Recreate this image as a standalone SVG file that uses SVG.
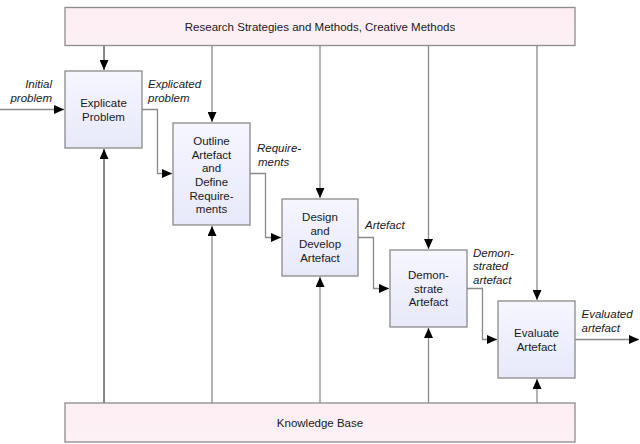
<svg xmlns="http://www.w3.org/2000/svg" width="640" height="444" viewBox="0 0 640 444">
<style>
.bar{fill:url(#pink);stroke:#8c8c8c;stroke-width:1.3}
.box{fill:url(#lav);stroke:#8a8a8a;stroke-width:1.3}
.t{font-family:"Liberation Sans",Arial,sans-serif;font-size:11.5px;fill:#1a1a1a;text-anchor:middle}
.lbl{font-family:"Liberation Sans",Arial,sans-serif;font-size:11.5px;font-style:italic;fill:#1a1a1a}
.c{fill:none;stroke:#8a8a8a;stroke-width:1.3}
.k{fill:none;stroke:#111;stroke-width:1}
</style>
<defs>
<linearGradient id="lav" x1="0" y1="0" x2="0" y2="1"><stop offset="0" stop-color="#f6f6fe"/><stop offset="1" stop-color="#e7e9fa"/></linearGradient>
<linearGradient id="pink" x1="0" y1="0" x2="0" y2="1"><stop offset="0" stop-color="#fdeef3"/><stop offset="1" stop-color="#fdf1f5"/></linearGradient>
<marker id="a" markerUnits="userSpaceOnUse" markerWidth="11" markerHeight="9" refX="10" refY="4.5" orient="auto"><path d="M0,0L10,4.5L0,9z" fill="#000"/></marker>
</defs>
<g id="connectors">
<path class="k" d="M104,46V70" marker-end="url(#a)"/>
<path class="c" d="M212,46V122" marker-end="url(#a)"/>
<path class="c" d="M320,46V198" marker-end="url(#a)"/>
<path class="c" d="M428.5,46V249" marker-end="url(#a)"/>
<path class="c" d="M537,46V300" marker-end="url(#a)"/>
<path class="k" d="M104,403V149" marker-end="url(#a)"/>
<path class="c" d="M212,403V226" marker-end="url(#a)"/>
<path class="c" d="M320,403V277" marker-end="url(#a)"/>
<path class="c" d="M428.5,403V328" marker-end="url(#a)"/>
<path class="c" d="M537,403V379" marker-end="url(#a)"/>
<path class="c" d="M0,109.5H64" marker-end="url(#a)"/>
<path class="c" d="M142,109.5H157.5V173.5H172" marker-end="url(#a)"/>
<path class="c" d="M250,173.5H265.5V237.5H281" marker-end="url(#a)"/>
<path class="c" d="M358,237.5H373.5V288.5H389" marker-end="url(#a)"/>
<path class="c" d="M467,288.5H482.5V339.5H497" marker-end="url(#a)"/>
<path class="c" d="M575,339.5H639" marker-end="url(#a)"/>
<text class="lbl" text-anchor="end" x="52" y="88">Initial</text>
<text class="lbl" text-anchor="end" x="52" y="102">problem</text>
<text class="lbl" x="148" y="88">Explicated</text>
<text class="lbl" x="148" y="102">problem</text>
<text class="lbl" x="257" y="152">Require-</text>
<text class="lbl" x="258" y="166">ments</text>
<text class="lbl" x="365" y="229">Artefact</text>
<text class="lbl" x="473" y="256.5">Demon-</text>
<text class="lbl" x="473" y="270">strated</text>
<text class="lbl" x="473" y="283.5">artefact</text>
<text class="lbl" x="581.5" y="318">Evaluated</text>
<text class="lbl" x="581.5" y="332">artefact</text>
</g>
<g id="research">
<rect class="bar" x="65" y="7.5" width="510" height="38"/>
<text class="t" x="320" y="31">Research Strategies and Methods, Creative Methods</text>
</g>
<g id="knowledge">
<rect class="bar" x="65" y="403" width="510" height="39"/>
<text class="t" x="320" y="426.5">Knowledge Base</text>
</g>
<g id="explicate">
<rect class="box" x="65" y="71" width="77" height="77"/>
<text class="t" x="103.5" y="107">Explicate</text>
<text class="t" x="103.5" y="120.5">Problem</text>
</g>
<g id="outline">
<rect class="box" x="173" y="123" width="77" height="102"/>
<text class="t" x="211.5" y="144.8">Outline</text>
<text class="t" x="211.5" y="158.5">Artefact</text>
<text class="t" x="211.5" y="172.2">and</text>
<text class="t" x="211.5" y="185.9">Define</text>
<text class="t" x="211.5" y="199.6">Require-</text>
<text class="t" x="211.5" y="213.3">ments</text>
</g>
<g id="design">
<rect class="box" x="282" y="199" width="76" height="77"/>
<text class="t" x="320" y="221">Design</text>
<text class="t" x="320" y="234.5">and</text>
<text class="t" x="320" y="248">Develop</text>
<text class="t" x="320" y="261.5">Artefact</text>
</g>
<g id="demonstrate">
<rect class="box" x="390" y="250" width="77" height="77"/>
<text class="t" x="428.5" y="279">Demon-</text>
<text class="t" x="428.5" y="292.7">strate</text>
<text class="t" x="428.5" y="306.4">Artefact</text>
</g>
<g id="evaluate">
<rect class="box" x="498" y="301" width="77" height="77"/>
<text class="t" x="536.5" y="337">Evaluate</text>
<text class="t" x="536.5" y="350.5">Artefact</text>
</g>
</svg>
